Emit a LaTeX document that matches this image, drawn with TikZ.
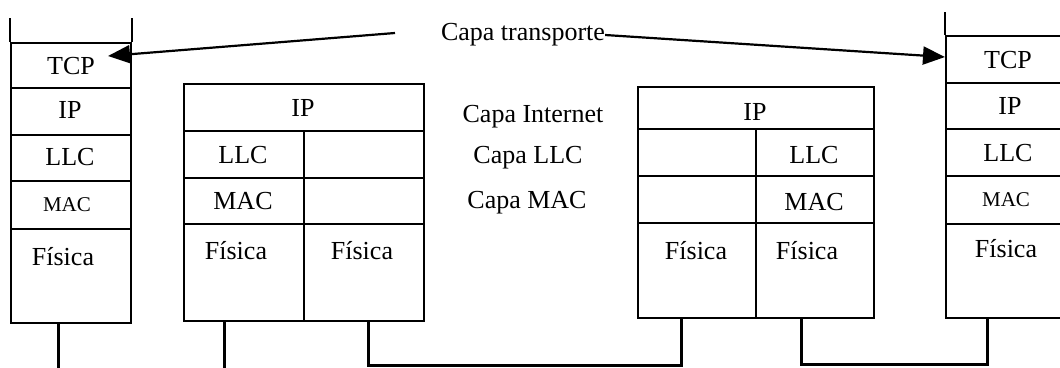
\documentclass[tikz,border=0pt]{standalone}
\usepackage{fontspec}
\setmainfont{Liberation Serif}
\usetikzlibrary{arrows.meta}
\begin{document}
\begin{tikzpicture}[x=1pt,y=-1pt,
  box/.style={draw, line width=2pt, inner sep=0pt, anchor=north west},
  txt/.style={font=\fontsize{26}{30}\selectfont, inner sep=0pt},
  smalltxt/.style={font=\fontsize{21}{25}\selectfont, inner sep=0pt},
  wire/.style={line width=3pt},
  edgeline/.style={line width=2pt},
  arr/.style={line width=2.2pt, -{Triangle[length=22pt,width=18pt]}}]
\useasboundingbox (0,0) rectangle (1060,367);

% ---- left host stack
\node[box, minimum width=120pt, minimum height=45pt] (ltcp) at (10,42) {};
\node[box, minimum width=120pt, minimum height=47pt] (lip)  at (10,87) {};
\node[box, minimum width=120pt, minimum height=46pt] (lllc) at (10,134) {};
\node[box, minimum width=120pt, minimum height=48pt] (lmac) at (10,180) {};
\node[box, minimum width=120pt, minimum height=94pt] (lfis) at (10,228) {};
\node[txt] (ltcpt) at (71,66) {TCP};
\node[txt] (lipt)  at (70,110) {IP};
\node[txt] (lllct) at (70,157) {LLC};
\node[smalltxt] (lmact) at (67,205) {MAC};
\node[txt] (lfist) at (63,257) {Física};
\draw[edgeline] (ltcp.north west) -- ++(0,-24);
\draw[edgeline] (ltcp.north east) -- ++(0,-24);

% ---- left router
\node[box, minimum width=240pt, minimum height=47pt] (aip)   at (183,83) {};
\node[box, minimum width=120pt, minimum height=47pt] (allcl) at (183,130) {};
\node[box, minimum width=120pt, minimum height=47pt] (allcr) at (303,130) {};
\node[box, minimum width=120pt, minimum height=46pt] (amacl) at (183,177) {};
\node[box, minimum width=120pt, minimum height=46pt] (amacr) at (303,177) {};
\node[box, minimum width=120pt, minimum height=97pt] (afisl) at (183,223) {};
\node[box, minimum width=120pt, minimum height=97pt] (afisr) at (303,223) {};
\node[txt] (aipt)   at (303,108) {IP};
\node[txt] (allct)  at (243,155) {LLC};
\node[txt] (amact)  at (243,201) {MAC};
\node[txt] (afislt) at (236,251) {Física};
\node[txt] (afisrt) at (362,251) {Física};

% ---- right router
\node[box, minimum width=236pt, minimum height=42pt] (bip)   at (637,86) {};
\node[box, minimum width=118pt, minimum height=47pt] (bllcl) at (637,128) {};
\node[box, minimum width=118pt, minimum height=47pt] (bllcr) at (755,128) {};
\node[box, minimum width=118pt, minimum height=47pt] (bmacl) at (637,175) {};
\node[box, minimum width=118pt, minimum height=47pt] (bmacr) at (755,175) {};
\node[box, minimum width=118pt, minimum height=95pt] (bfisl) at (637,222) {};
\node[box, minimum width=118pt, minimum height=95pt] (bfisr) at (755,222) {};
\node[txt] (bipt)   at (755,112) {IP};
\node[txt] (bllct)  at (814,155) {LLC};
\node[txt] (bmact)  at (814,202) {MAC};
\node[txt] (bfislt) at (696,251) {Física};
\node[txt] (bfisrt) at (807,251) {Física};

% ---- right host stack (cut by the page edge)
\node[box, minimum width=126pt, minimum height=47pt] (rtcp) at (945,35) {};
\node[box, minimum width=126pt, minimum height=46pt] (rip)  at (945,82) {};
\node[box, minimum width=126pt, minimum height=47pt] (rllc) at (945,128) {};
\node[box, minimum width=126pt, minimum height=48pt] (rmac) at (945,175) {};
\node[box, minimum width=126pt, minimum height=94pt] (rfis) at (945,223) {};
\node[txt] (rtcpt) at (1008,60) {TCP};
\node[txt] (ript)  at (1010,106) {IP};
\node[txt] (rllct) at (1008,153) {LLC};
\node[smalltxt] (rmact) at (1006,200) {MAC};
\node[txt] (rfist) at (1006,249) {Física};
\draw[edgeline] (rtcp.north west) -- ++(0,-23);

% ---- layer labels
\node[txt] (tr)  at (523,35) {Capa transporte};
\node[txt] (ci)  at (533,117) {Capa Internet};
\node[txt] (cl)  at (528,158) {Capa LLC};
\node[txt] (cm)  at (527,203) {Capa MAC};

\coordinate (lstart) at (395,33);
\coordinate (ltip) at (108,56);
\coordinate (rtip) at (945,57);
\draw[arr] (lstart) -- (ltip);
\draw[arr] (tr.east) -- (rtip);

% ---- physical links
\draw[wire] (lfis.south west) ++(48,0) -- ++(0,46);
\draw[wire] (afisl.south west) ++(41,0) -- ++(0,48);
\draw[wire] ([xshift=65pt]afisr.south west) -- ++(0,43) -| ([xshift=44pt]bfisl.south west);
\draw[wire] ([xshift=46pt]bfisr.south west) -- ++(0,45) -| ([xshift=42pt]rfis.south west);
\end{tikzpicture}
\end{document}
